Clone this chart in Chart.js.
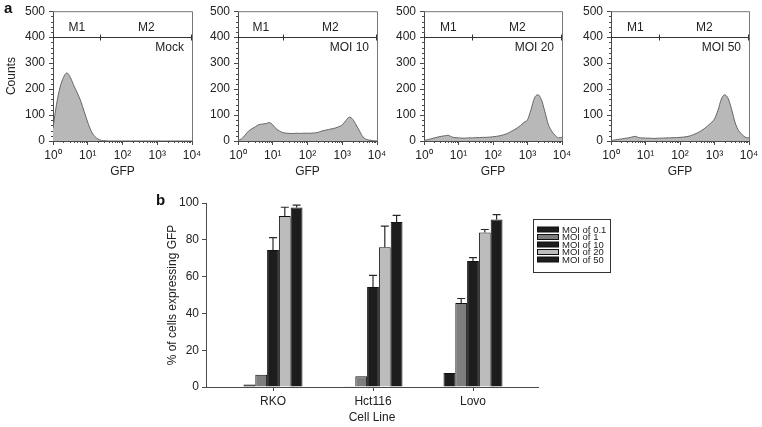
<!DOCTYPE html>
<html><head><meta charset="utf-8">
<script src="https://cdn.jsdelivr.net/npm/chart.js@4.4.1/dist/chart.umd.min.js"></script>
<style>
html,body{margin:0;padding:0;background:#fff;}
#wrap{position:relative;width:762px;height:427px;overflow:hidden;background:#fff;}
canvas{position:absolute;left:0;top:0;}
.panel{position:absolute;font:bold 15px "Liberation Sans",Arial,sans-serif;line-height:15px;color:#111;}
</style></head><body>
<div id="wrap">
<canvas id="h0" width="762" height="427"></canvas>
<canvas id="h1" width="762" height="427"></canvas>
<canvas id="h2" width="762" height="427"></canvas>
<canvas id="h3" width="762" height="427"></canvas>
<canvas id="bars" width="762" height="427"></canvas>
<div class="panel" style="left:4px;top:0px">a</div>
<div class="panel" style="left:156px;top:192px">b</div>
</div>
<script>
// ---------- data: panel a (flow histograms) ----------
const gfpChannels = [1,1.26,1.58,2,2.51,3.16,3.98,5.01,6.31,7.94,
  10,12.6,15.8,20,25.1,31.6,39.8,50.1,63.1,79.4,
  100,126,158,200,251,316,398,501,631,794,
  1000,1259,1585,1995,2512,3162,3981,5012,6310,7943,10000];
const mockCounts  = [50,140,205,245,262,245,213,185,153,112,72,38,18,7,2,1,0,0,0,0,0,0,0,0,0,0,0,0,0,0,0,0,0,0,0,0,0,0,0,0,0];
const moi10Counts = [2,8,22,38,47,55,63,65,67,71,62,47,38,32,30,29,29,30,29,30,30,30,31,33,38,41,44,47,50,55,62,78,92,84,62,38,15,6,3,1,0];
const moi20Counts = [2,5,8,12,15,18,20,22,16,13,12,11,11,12,12,13,13,14,14,15,16,18,20,24,28,35,42,50,60,72,82,120,165,178,160,115,65,38,22,12,15];
const moi50Counts = [2,4,6,8,10,12,15,18,13,12,11,11,10,10,11,11,12,12,13,13,14,15,17,20,25,31,38,47,58,70,85,118,162,178,162,120,70,40,25,14,12];
const histLabels = ['Mock','MOI 10','MOI 20','MOI 50'];
const countTicks = [0,100,200,300,400,500];
const gfpTicks = [1,10,100,1000,10000];
const gfpTickLabels = ['10⁰','10¹','10²','10³','10⁴'];
const markerLevel = 400;
const markerNames = ['M1','M2'];
const markerSplits = [23,20,24,25];

// ---------- data: panel b (bar chart) ----------
const cellLines = ['RKO','Hct116','Lovo'];
const moiLabels = ['MOI of 0.1','MOI of 1','MOI of 10','MOI of 20','MOI of 50'];
const moi01 = [1.3, 0.4, 7.6];
const moi1  = [6.7, 5.8, 45.7];
const moi10 = [74.5, 54.3, 68.5];
const moi20 = [93.0, 76.0, 84.0];
const moi50 = [97.5, 89.7, 91.0];
const err01 = [0, 0, 0];
const err1  = [0, 0, 2.4];
const err10 = [6.7, 6.4, 1.8];
const err20 = [4.7, 11.4, 1.6];
const err50 = [1.3, 3.6, 2.7];
const pctTicks = [0,20,40,60,80,100];

// ---------- styling ----------
Chart.defaults.font.family = '"Liberation Sans", Arial, Helvetica, sans-serif';
Chart.defaults.color = '#222';
const AXIS = '#4a4a4a';
const barColors = ['#1d1d1d','#7e7e7e','#1d1d1d','#bcbcbc','#1d1d1d'];
const histGeom = [
  {left:53, right:192, yW:53},
  {left:238, right:377, yW:34},
  {left:424, right:562, yW:34},
  {left:611, right:749, yW:34}
];

const framePlugin = {
  id:'frame',
  afterDatasetsDraw(chart){
    const {ctx, chartArea:a} = chart;
    ctx.save();
    ctx.strokeStyle = '#777'; ctx.lineWidth = 1;
    ctx.beginPath();
    ctx.moveTo(a.left, a.top+0.5); ctx.lineTo(a.right+0.5, a.top+0.5); ctx.lineTo(a.right+0.5, a.bottom);
    ctx.stroke();
    ctx.restore();
  }
};
const minorTickPlugin = {
  id:'minorTicks',
  afterDraw(chart){
    const {ctx} = chart, xs = chart.scales.x, ys = chart.scales.y;
    ctx.save(); ctx.strokeStyle = AXIS; ctx.lineWidth = 1; ctx.beginPath();
    for (let d = 1; d < 10000; d *= 10) {
      for (let m = 2; m < 10; m++) {
        const px = Math.round(xs.getPixelForValue(d*m)) + 0.5;
        ctx.moveTo(px, ys.bottom); ctx.lineTo(px, ys.bottom + 2);
      }
    }
    for (let v = 20; v < 500; v += 20) {
      if (v % 100 === 0) continue;
      const py = Math.round(ys.getPixelForValue(v)) + 0.5;
      ctx.moveTo(xs.left, py); ctx.lineTo(xs.left - 2, py);
    }
    ctx.stroke(); ctx.restore();
  }
};
const markerPlugin = {
  id:'marker',
  afterDatasetsDraw(chart, args, opts){
    const {ctx} = chart, xs = chart.scales.x, ys = chart.scales.y;
    const y = Math.round(ys.getPixelForValue(markerLevel)) + 0.5;
    const x0 = xs.getPixelForValue(gfpTicks[0]);
    const x2 = xs.getPixelForValue(gfpTicks[gfpTicks.length-1]);
    const x1 = Math.round(xs.getPixelForValue(opts.split)) + 0.5;
    ctx.save();
    ctx.strokeStyle = '#333'; ctx.lineWidth = 1;
    ctx.beginPath();
    ctx.moveTo(x0, y); ctx.lineTo(x2, y);
    [x0+0.5, x1, x2-0.5].forEach(x => { ctx.moveTo(x, y-3); ctx.lineTo(x, y+3); });
    ctx.stroke();
    ctx.fillStyle = '#222'; ctx.font = '12px "Liberation Sans", Arial, sans-serif';
    ctx.textAlign = 'center'; ctx.textBaseline = 'middle';
    const ty = ys.getPixelForValue(436);
    ctx.fillText(markerNames[0], (x0 + x1)/2, ty);
    ctx.fillText(markerNames[1], (x1 + x2)/2, ty);
    ctx.textAlign = 'right';
    ctx.fillText(opts.label, x2 - 8, ys.getPixelForValue(358));
    ctx.restore();
  }
};

function histChart(id, i, counts){
  const g = histGeom[i];
  return new Chart(document.getElementById(id), {
    type:'line',
    data:{datasets:[{
      data: gfpChannels.map((x,k)=>({x:x, y:counts[k]})),
      fill:'origin', backgroundColor:'#b8b8b8', borderColor:'#666', borderWidth:1,
      pointRadius:0, tension:0.3, cubicInterpolationMode:'monotone'
    }]},
    options:{
      responsive:false, animation:false, events:[],
      layout:{padding:{left:g.left-g.yW, right:762-g.right, top:10, bottom:427-141-40}},
      plugins:{legend:{display:false}, tooltip:{enabled:false},
        marker:{split:markerSplits[i], label:histLabels[i]}},
      scales:{
        x:{type:'logarithmic', min:gfpTicks[0], max:gfpTicks[gfpTicks.length-1],
          afterBuildTicks:s=>{s.ticks = gfpTicks.map(v=>({value:v, major:true}));},
          afterFit:s=>{s.height = 40;},
          ticks:{callback:(v,idx)=>gfpTickLabels[idx], autoSkip:false, maxRotation:0, padding:3, font:{size:12}, color:'#222'},
          grid:{drawOnChartArea:false, tickLength:4, color:AXIS},
          border:{color:AXIS},
          title:{display:true, text:'GFP', font:{size:12}, color:'#222', padding:{top:0, bottom:2}}
        },
        y:{min:0, max:500,
          afterBuildTicks:s=>{s.ticks = countTicks.map(v=>({value:v}));},
          afterFit:s=>{s.width = g.yW;},
          ticks:{padding:4, font:{size:12}, color:'#222'},
          grid:{drawOnChartArea:false, tickLength:4, color:AXIS},
          border:{color:AXIS},
          title:{display:i===0, text:'Counts', font:{size:12}, color:'#222', padding:{top:4, bottom:0}}
        }
      }
    },
    plugins:[framePlugin, minorTickPlugin, markerPlugin]
  });
}
histChart('h0', 0, mockCounts);
histChart('h1', 1, moi10Counts);
histChart('h2', 2, moi20Counts);
histChart('h3', 3, moi50Counts);

// ---------- panel b ----------
const barSeries = [moi01, moi1, moi10, moi20, moi50];
const errSeries = [err01, err1, err10, err20, err50];

const errorBarPlugin = {
  id:'errorBars',
  afterDatasetsDraw(chart){
    const {ctx} = chart, ys = chart.scales.y;
    ctx.save(); ctx.strokeStyle = '#2a2a2a'; ctx.lineWidth = 1.2;
    chart.data.datasets.forEach((ds, k) => {
      const meta = chart.getDatasetMeta(k);
      meta.data.forEach((bar, i) => {
        const e = errSeries[k][i];
        if (!e) return;
        const v = barSeries[k][i];
        const yTop = ys.getPixelForValue(v), yCap = ys.getPixelForValue(v + e);
        ctx.beginPath();
        ctx.moveTo(bar.x, yTop); ctx.lineTo(bar.x, yCap);
        ctx.moveTo(bar.x - 4, yCap); ctx.lineTo(bar.x + 4, yCap);
        ctx.stroke();
      });
    });
    ctx.restore();
  }
};
const boxLegendPlugin = {
  id:'boxLegend',
  afterDraw(chart){
    const {ctx} = chart;
    const bx = 533, by = 219, bw = 77, bh = 53, row0 = 229.5, step = 7.5;
    ctx.save();
    ctx.strokeStyle = '#333'; ctx.lineWidth = 1;
    ctx.strokeRect(bx + 0.5, by + 0.5, bw, bh);
    ctx.font = '9.5px "Liberation Sans", Arial, sans-serif';
    ctx.textBaseline = 'middle'; ctx.textAlign = 'left';
    chart.data.datasets.forEach((ds, k) => {
      const cy = row0 + k*step;
      ctx.fillStyle = ds.backgroundColor;
      ctx.fillRect(537, cy - 2.5, 22, 5);
      ctx.strokeStyle = '#111';
      ctx.strokeRect(537.5, cy - 2.5, 21, 5);
      ctx.fillStyle = '#222';
      ctx.fillText(ds.label, 562, cy + 0.5);
    });
    ctx.restore();
  }
};

new Chart(document.getElementById('bars'), {
  type:'bar',
  data:{datasets: barSeries.map((vals, k) => ({
    label: moiLabels[k],
    data: cellLines.map((c, i) => ({x:i, y:vals[i]})),
    backgroundColor: barColors[k], borderColor:'#111', borderWidth:1,
    categoryPercentage:0.59, barPercentage:1
  }))},
  options:{
    responsive:false, animation:false, events:[],
    layout:{padding:{left:206-45, right:762-538, top:203, bottom:0}},
    plugins:{legend:{display:false}, tooltip:{enabled:false}},
    scales:{
      x:{type:'linear', min:-0.67, max:2.65, offset:false,
        afterBuildTicks:s=>{s.ticks = cellLines.map((c,i)=>({value:i}));},
        afterFit:s=>{s.height = 40;},
        ticks:{callback:(v,idx)=>cellLines[idx], autoSkip:false, maxRotation:0, padding:3, font:{size:12}, color:'#222'},
        grid:{drawOnChartArea:false, offset:false, tickLength:4, color:AXIS},
        border:{color:AXIS},
        title:{display:true, text:'Cell Line', font:{size:12}, color:'#222', padding:{top:0, bottom:2}}
      },
      y:{min:0, max:100,
        afterBuildTicks:s=>{s.ticks = pctTicks.map(v=>({value:v}));},
        afterFit:s=>{s.width = 45;},
        ticks:{padding:3, font:{size:12}, color:'#222'},
        grid:{drawOnChartArea:false, tickLength:4, color:AXIS},
        border:{color:AXIS},
        title:{display:true, text:'% of cells expressing GFP', font:{size:12}, color:'#222', padding:{top:4, bottom:0}}
      }
    }
  },
  plugins:[errorBarPlugin, boxLegendPlugin]
});
</script>
</body></html>
